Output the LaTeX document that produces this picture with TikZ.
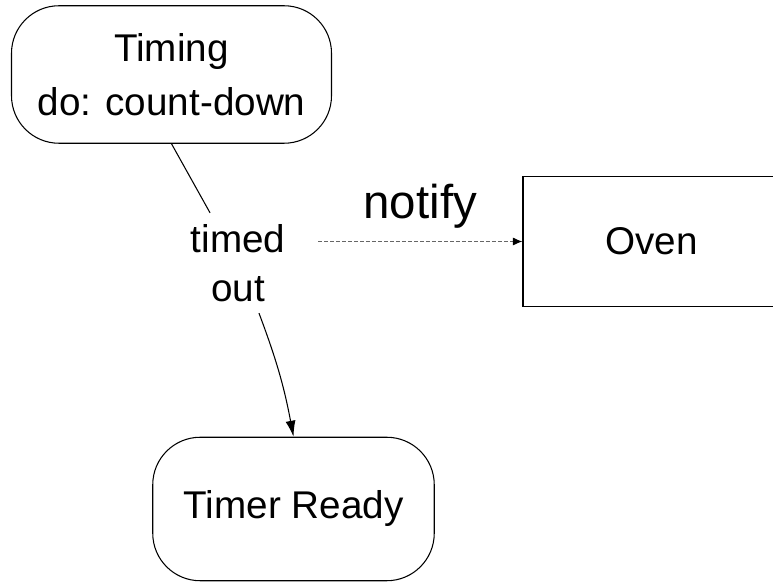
\documentclass[tikz,border=0pt]{standalone}
\usepackage{fontspec}
\setmainfont{Liberation Sans}
\usetikzlibrary{arrows.meta}
\begin{document}
\begin{tikzpicture}[
    state/.style={draw,rounded corners=0.95cm,line width=0.6pt,align=center,inner sep=0pt},
    obj/.style={draw,line width=0.6pt,inner sep=0pt},
    big/.style={font=\fontsize{22}{31}\selectfont},
    trans/.style={line width=0.6pt,-{Latex[length=0.32cm,width=0.2cm]}},
    signal/.style={black!60,line width=0.6pt,dash pattern=on 0.08cm off 0.04cm,
      -{Latex[length=0.19cm,width=0.16cm,color=black]}}]
  \clip (0,0) rectangle (15.46,-11.64);
  % ---- states of the timer ----
  \node[state,big,minimum width=6.4cm,minimum height=2.75cm] (timing) at (3.43,-1.49) {Timing\\do: count-down};
  \node[state,big,minimum width=5.63cm,minimum height=2.87cm] (ready) at (5.87,-10.18) {Timer Ready};
  % ---- the oven, outside the machine ----
  \node[obj,big,minimum width=5.14cm,minimum height=2.6cm] (oven) at (13.03,-4.83) {Oven};
  % ---- transition and its event ----
  \node[align=center,inner xsep=0.1cm,inner ysep=0.22cm,font=\fontsize{22}{28}\selectfont] (timed) at (4.76,-5.26) {timed\\out};
  \draw[line width=0.6pt] (timing.south) -- (timed);
  \draw[trans] (timed) to[bend left=5] (ready.north);
  % ---- signal sent to the oven ----
  \coordinate (sig) at (6.36,-4.83);
  \draw[signal] (sig) -- (oven.west)
    node[midway,above,inner sep=0.26cm,font=\fontsize{27}{32}\selectfont,text=black] {notify};
\end{tikzpicture}
\end{document}
